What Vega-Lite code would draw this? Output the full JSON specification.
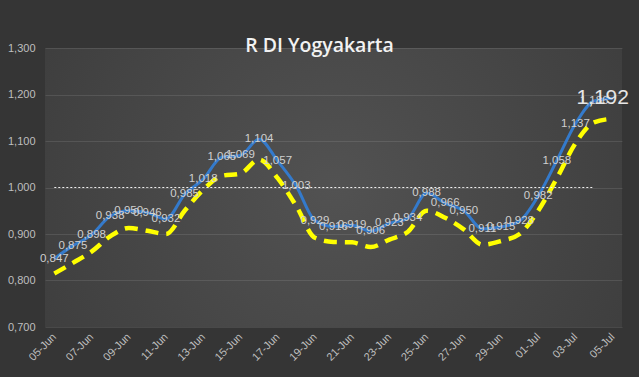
{
  "$schema": "https://vega.github.io/schema/vega-lite/v6.json",
  "width": 577,
  "height": 279,
  "autosize": {"type": "none"},
  "padding": {"left": 45, "top": 48, "right": 17, "bottom": 50},
  "background": "#353535",
  "view": {
    "stroke": null,
    "fill": {"gradient": "radial", "x1": 0.5, "y1": 0.5, "r1": 0, "x2": 0.5, "y2": 0.5, "r2": 0.75,
      "stops": [{"offset": 0, "color": "#525252"}, {"offset": 1, "color": "#383838"}]}
  },
  "title": {
    "text": "R DI Yogyakarta",
    "color": "#F2F2F2",
    "font": "Open Sans",
    "fontSize": 19.5,
    "fontWeight": 600,
    "baseline": "middle",
    "offset": -23,
    "dx": -14
  },
  "data": {
    "values": [
      {"d": "05-Jun", "r": 0.847, "ma": 0.815, "ref": 1},
      {"d": "06-Jun", "r": 0.875, "ma": 0.838, "ref": 1},
      {"d": "07-Jun", "r": 0.898, "ma": 0.862, "ref": 1},
      {"d": "08-Jun", "r": 0.938, "ma": 0.895, "ref": 1},
      {"d": "09-Jun", "r": 0.950, "ma": 0.913, "ref": 1},
      {"d": "10-Jun", "r": 0.946, "ma": 0.907, "ref": 1},
      {"d": "11-Jun", "r": 0.932, "ma": 0.900, "ref": 1},
      {"d": "12-Jun", "r": 0.985, "ma": 0.950, "ref": 1},
      {"d": "13-Jun", "r": 1.018, "ma": 0.995, "ref": 1},
      {"d": "14-Jun", "r": 1.065, "ma": 1.025, "ref": 1},
      {"d": "15-Jun", "r": 1.069, "ma": 1.030, "ref": 1},
      {"d": "16-Jun", "r": 1.104, "ma": 1.060, "ref": 1},
      {"d": "17-Jun", "r": 1.057, "ma": 1.020, "ref": 1},
      {"d": "18-Jun", "r": 1.003, "ma": 0.960, "ref": 1},
      {"d": "19-Jun", "r": 0.929, "ma": 0.892, "ref": 1},
      {"d": "20-Jun", "r": 0.916, "ma": 0.883, "ref": 1},
      {"d": "21-Jun", "r": 0.919, "ma": 0.882, "ref": 1},
      {"d": "22-Jun", "r": 0.906, "ma": 0.872, "ref": 1},
      {"d": "23-Jun", "r": 0.923, "ma": 0.888, "ref": 1},
      {"d": "24-Jun", "r": 0.934, "ma": 0.905, "ref": 1},
      {"d": "25-Jun", "r": 0.988, "ma": 0.950, "ref": 1},
      {"d": "26-Jun", "r": 0.966, "ma": 0.935, "ref": 1},
      {"d": "27-Jun", "r": 0.950, "ma": 0.910, "ref": 1},
      {"d": "28-Jun", "r": 0.911, "ma": 0.877, "ref": 1},
      {"d": "29-Jun", "r": 0.915, "ma": 0.885, "ref": 1},
      {"d": "30-Jun", "r": 0.928, "ma": 0.900, "ref": 1},
      {"d": "01-Jul", "r": 0.982, "ma": 0.950, "ref": 1},
      {"d": "02-Jul", "r": 1.058, "ma": 1.020, "ref": 1},
      {"d": "03-Jul", "r": 1.137, "ma": 1.095, "ref": 1},
      {"d": "04-Jul", "r": 1.186, "ma": 1.140, "ref": 1},
      {"d": "05-Jul", "r": 1.192, "ma": 1.148, "ref": null}
    ]
  },
  "encoding": {
    "x": {
      "field": "d", "type": "ordinal", "sort": null,
      "scale": {"type": "point", "padding": 0.5},
      "axis": {
        "title": null, "domain": false, "ticks": false, "grid": false,
        "values": ["05-Jun","07-Jun","09-Jun","11-Jun","13-Jun","15-Jun","17-Jun","19-Jun","21-Jun","23-Jun","25-Jun","27-Jun","29-Jun","01-Jul","03-Jul","05-Jul"],
        "labelAngle": -45, "labelAlign": "right", "labelBaseline": "middle",
        "labelPadding": 8, "labelColor": "#BFBFBF", "labelFont": "Liberation Sans", "labelFontSize": 11
      }
    }
  },
  "layer": [
    {
      "mark": {"type": "line", "color": "#FFFF00", "strokeWidth": 4.5, "strokeDash": [13, 8], "interpolate": "monotone"},
      "encoding": {"y": {"field": "ma", "type": "quantitative",
        "scale": {"domain": [0.7, 1.3], "nice": false, "zero": false},
        "axis": {
          "title": null, "domain": false, "ticks": false, "grid": true,
          "gridColor": "#ffffff", "gridOpacity": 0.1, "gridWidth": 1,
          "values": [0.7, 0.8, 0.9, 1.0, 1.1, 1.2, 1.3],
          "labelExpr": "replace(format(datum.value, '.3f'), '.', ',')",
          "labelPadding": 10, "labelColor": "#BFBFBF", "labelFont": "Liberation Sans", "labelFontSize": 11
        }}}
    },
    {
      "mark": {"type": "line", "color": "#347ACB", "strokeWidth": 3, "interpolate": "monotone"},
      "encoding": {"y": {"field": "r", "type": "quantitative"}}
    },
    {
      "mark": {"type": "line", "color": "#F0F0F0", "strokeWidth": 1, "strokeDash": [2, 2]},
      "encoding": {"y": {"field": "ref", "type": "quantitative"}}
    },
    {
      "transform": [{"filter": "datum.d != '05-Jul'"}],
      "mark": {"type": "text", "color": "#D0D0D0", "font": "Liberation Sans", "fontSize": 11.5},
      "encoding": {
        "y": {"field": "r", "type": "quantitative"},
        "text": {"field": "r", "type": "quantitative", "format": ".3f", "formatType": "number"}
      }
    },
    {
      "transform": [{"filter": "datum.d == '05-Jul'"}],
      "mark": {"type": "text", "color": "#E6E6E6", "font": "Liberation Sans", "fontSize": 21, "dx": -10},
      "encoding": {
        "y": {"field": "r", "type": "quantitative"},
        "text": {"field": "r", "type": "quantitative", "format": ".3f"}
      }
    }
  ],
  "config": {
    "locale": {"number": {"decimal": ",", "thousands": ".", "grouping": [3], "currency": ["", ""]}}
  }
}
